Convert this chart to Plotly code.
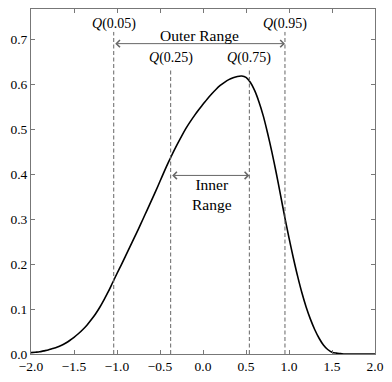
import plotly.graph_objects as go

# density curve (step 0.05)
x_vals = [round(-2.0 + 0.05 * i, 2) for i in range(81)]
y_vals = [0.003, 0.004, 0.005, 0.007, 0.009, 0.012, 0.015, 0.019, 0.024, 0.030,
          0.037, 0.045, 0.054, 0.064, 0.076, 0.089, 0.104, 0.121, 0.139, 0.159,
          0.179, 0.198, 0.218, 0.238, 0.258, 0.278, 0.299, 0.320, 0.341, 0.362,
          0.384, 0.406, 0.427, 0.447, 0.466, 0.484, 0.501, 0.516, 0.530, 0.543,
          0.555, 0.567, 0.578, 0.588, 0.597, 0.604, 0.610, 0.614, 0.617, 0.618,
          0.615, 0.604, 0.586, 0.561, 0.530, 0.492, 0.450, 0.404, 0.355, 0.305,
          0.258, 0.214, 0.173, 0.136, 0.104, 0.077, 0.054, 0.035, 0.020, 0.010,
          0.004, 0.002, 0.001, 0.0, 0.0, 0.0, 0.0, 0.0, 0.0, 0.0, 0.0]

q_probs = ["0.05", "0.25", "0.75", "0.95"]
q_values = [-1.038, -0.376, 0.539, 0.953]
q_tops = [0.716, 0.636, 0.636, 0.716]
q_label_y = [0.734, 0.657, 0.657, 0.734]

x_ticks = [-2.0, -1.5, -1.0, -0.5, 0.0, 0.5, 1.0, 1.5, 2.0]
y_ticks = [0.0, 0.1, 0.2, 0.3, 0.4, 0.5, 0.6, 0.7]

outer_y = 0.690
inner_y = 0.397

FONT = "Liberation Serif"
GRAY = "#666666"

fig = go.Figure()

fig.add_trace(go.Scatter(x=x_vals, y=y_vals, mode="lines",
                         line=dict(color="black", width=1.6, shape="spline", smoothing=0.8),
                         hoverinfo="skip", showlegend=False))

for q, top in zip(q_values, q_tops):
    fig.add_trace(go.Scatter(x=[q, q], y=[0, top], mode="lines",
                             line=dict(color=GRAY, width=1, dash="4px,2.5px"),
                             hoverinfo="skip", showlegend=False))

annotations = []
for p, q, ly in zip(q_probs, q_values, q_label_y):
    annotations.append(dict(x=q, y=ly, xref="x", yref="y", showarrow=False,
                            text="<i>Q</i>(" + p + ")",
                            font=dict(family=FONT, size=14, color="black")))

def double_arrow(x0, x1, y):
    return dict(x=x1, y=y, ax=x0, ay=y, xref="x", yref="y", axref="x", ayref="y",
                text="", showarrow=True, arrowside="end+start",
                arrowhead=4, startarrowhead=4, arrowsize=1.4, startarrowsize=1.4,
                arrowwidth=1, arrowcolor=GRAY, standoff=0, startstandoff=0)

annotations.append(double_arrow(q_values[0], q_values[3], outer_y))
annotations.append(double_arrow(q_values[1], q_values[2], inner_y))

annotations.append(dict(x=(q_values[0] + q_values[3]) / 2, y=0.708, xref="x", yref="y",
                        showarrow=False, text="Outer Range",
                        font=dict(family=FONT, size=15.5, color="black")))
annotations.append(dict(x=0.105, y=0.355, xref="x", yref="y", showarrow=False,
                        text="Inner<br>Range",
                        font=dict(family=FONT, size=15.5, color="black")))

axis_common = dict(showgrid=False, zeroline=False, showline=True, linecolor="#777777", linewidth=1,
                   mirror="ticks", ticks="inside", ticklen=4, tickcolor="#777777", tickwidth=1,
                   tickfont=dict(family=FONT, size=13.5, color="black"), tickformat=".1f")

fig.update_layout(
    width=392, height=382,
    margin=dict(l=31, r=17, t=8, b=19),
    paper_bgcolor="white", plot_bgcolor="white",
    xaxis=dict(range=[-2, 2], tickvals=x_ticks, **axis_common),
    yaxis=dict(range=[0, 0.767], tickvals=y_ticks, **axis_common),
    annotations=annotations,
    showlegend=False,
)

fig.write_html("out.html")
